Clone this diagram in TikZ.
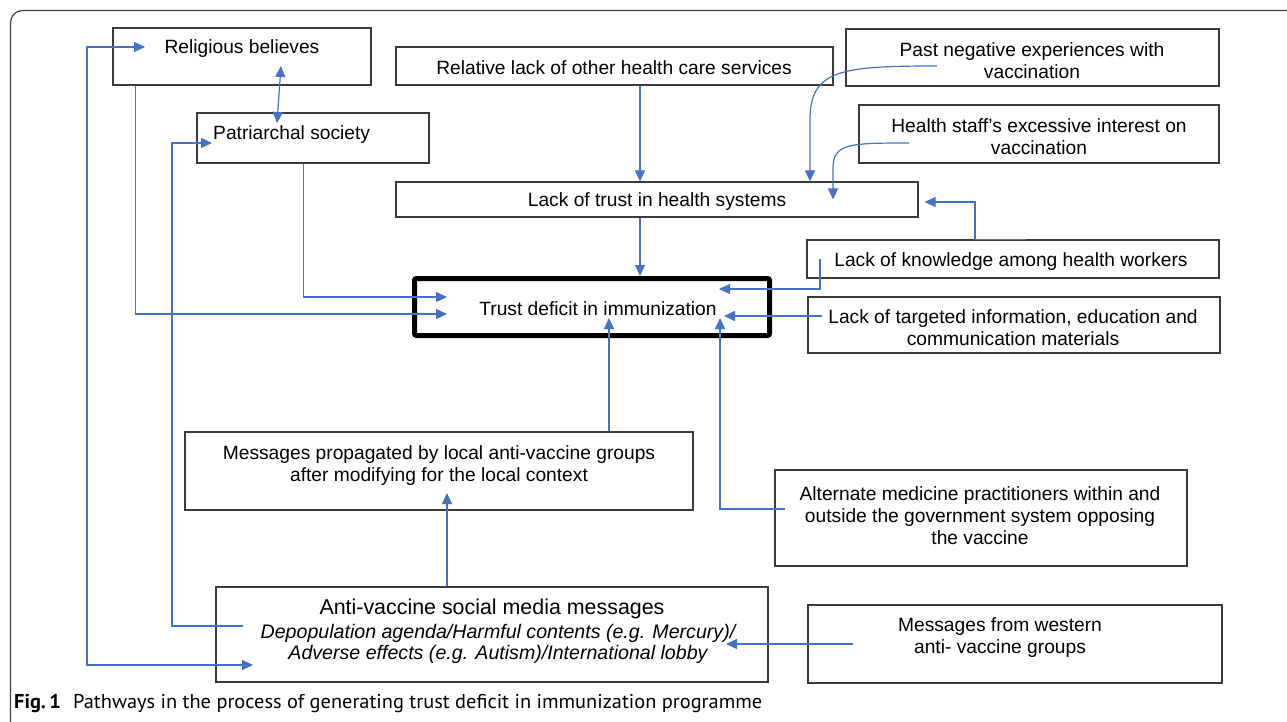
\documentclass[tikz,border=0pt]{standalone}
\usepackage{fontspec}
\setmainfont{Liberation Sans}
\newfontfamily\capfont{PT Sans}
\usetikzlibrary{arrows.meta,calc}
\definecolor{linkblue}{HTML}{4472C4}
\definecolor{boxgray}{HTML}{3A3A3A}
\begin{document}
\begin{tikzpicture}[x=1pt,y=-1pt,
  box/.style={draw=boxgray,line width=1.2pt,inner sep=0pt,minimum width=#1},
  txt/.style={inner sep=0pt,align=center,yshift=-1.5pt,font=\fontsize{19.2}{22}\selectfont},
  conn/.style={draw=linkblue,line width=1.2pt},
  arr/.style={conn,-{Triangle[length=11pt,width=10pt]}},
  darr/.style={conn,{Triangle[length=11pt,width=10pt]}-{Triangle[length=11pt,width=10pt]}}]
\clip (0,0) rectangle (1287,722);
\useasboundingbox (0,0) rectangle (1287,722);
\fill[white] (0,0) rectangle (1287,722);
\draw[line width=1.2pt,rounded corners=12pt,color=black!75] (10.5,10.5) rectangle (1330,760);

% boxes
\node[box=258pt,minimum height=57pt] (b-rb) at (242,56.5) {};
\node[box=232pt,minimum height=50pt] (b-ps) at (313,138) {};
\node[box=437pt,minimum height=38pt] (b-rl) at (614.5,66) {};
\node[box=373pt,minimum height=57pt] (b-pn) at (1032.5,57.5) {};
\node[box=360pt,minimum height=58pt] (b-hs) at (1039,134) {};
\node[box=522pt,minimum height=35pt] (b-lt) at (657,199.5) {};
\node[box=412pt,minimum height=38pt] (b-lk) at (1013,259) {};
\node[box=412pt,minimum height=56pt] (b-li) at (1014,325) {};
\node[draw=black,line width=5pt,rounded corners=2pt,inner sep=0pt,minimum width=355pt,minimum height=57pt] (b-td) at (592,307) {};
\node[box=508pt,minimum height=78pt] (b-mp) at (439,471) {};
\node[box=412pt,minimum height=96pt] (b-am) at (981,518) {};
\node[box=552pt,minimum height=95pt] (b-av) at (492,634.5) {};
\node[box=414pt,minimum height=78pt] (b-mw) at (1015,644) {};

% texts
\node[txt] (t-rb) at (242,47) {Religious believes};
\node[txt,anchor=west] (t-ps) at (213,133) {Patriarchal society};
\node[txt] (t-rl) at (614,66) {Relative lack of other health care services};
\node[txt] (t-pn) at (1032,59) {Past negative experiences with\\vaccination};
\node[txt] (t-hs) at (1039,135) {Health staff's excessive interest on\\vaccination};
\node[txt] (t-lt) at (657,200) {Lack of trust in health systems};
\node[txt] (t-lk) at (1011,260) {Lack of knowledge among health workers};
\node[txt] (t-li) at (1013,326) {Lack of targeted information, education and\\communication materials};
\node[txt] (t-td) at (598,307) {Trust deficit in immunization};
\node[txt] (t-mp) at (439,464) {Messages propagated by local anti-vaccine groups\\after modifying for the local context};
\node[txt] (t-am) at (980,514) {Alternate medicine practitioners within and\\outside the government system opposing\\the vaccine};
\node[txt,font=\fontsize{21.4}{22}\selectfont] (t-av1) at (492,607) {Anti-vaccine social media messages};
\node[txt,font=\fontsize{19.6}{21}\selectfont\itshape] (t-av2) at (498,642.5) {Depopulation agenda/Harmful contents (e.g. Mercury)/\\Adverse effects (e.g. Autism)/International lobby};
\node[txt] (t-mw) at (1000,636) {Messages from western\\anti- vaccine groups};

% caption
\node[anchor=west,inner sep=0pt] (cap) at (14,703) {\resizebox{748pt}{\height}{\capfont\fontsize{20}{22}\selectfont\textbf{Fig.\,1}\hspace{0.6em}Pathways in the process of generating trust deficit in immunization programme}};

% connectors
\draw[arr] ([xshift=23pt]b-rb.south west) |- ([xshift=35pt,yshift=-7pt]b-td.west);
\draw[arr] ([xshift=107pt]b-ps.south west) |- ([xshift=35pt,yshift=10pt]b-td.west);
\draw[darr] ([xshift=39pt,yshift=-9.5pt]b-rb.center) -- ([xshift=-36pt,yshift=15pt]b-ps.center);
\draw[darr] ([xshift=-239pt,yshift=-30.5pt]b-av.center) -- ++(-166,0) |- ([xshift=-97pt,yshift=9.5pt]b-rb.center);
\draw[arr] ([xshift=-249pt,yshift=8.5pt]b-av.center) -- ++(-71,0) |- ([xshift=-101pt,yshift=-5pt]b-ps.center);
\draw[arr] ([xshift=25.5pt]b-rl.south) -- ([xshift=-17pt]b-lt.north);
\draw[arr] ([xshift=-95.5pt,yshift=-8.5pt]b-pn.center) .. controls +(-95,0) and +(0,-50) .. ([xshift=153pt,yshift=62pt]b-lt.north) -- ([xshift=153pt]b-lt.north);
\draw[arr] ([xshift=-130pt,yshift=-9pt]b-hs.center) .. controls +(-60,0) and +(0,-25) .. ([xshift=176pt,yshift=31pt]b-lt.center) -- ([xshift=176pt]b-lt.center);
\draw[arr] ([xshift=13pt]b-lk.north) -- ++(-51,0) |- ([xshift=6pt,yshift=-2.5pt]b-lt.east);
\draw[arr] ([xshift=-17pt]b-lt.south) -- ([xshift=48pt]b-td.north);
\draw[arr] ([xshift=-193pt]b-lk.center) |- ([xshift=127pt,yshift=18pt]b-td.center);
\draw[arr] ([xshift=-192pt,yshift=9pt]b-li.center) -- ([xshift=132pt,yshift=-9pt]b-td.center);
\draw[arr] ([xshift=170pt]b-mp.north) -- ([xshift=17pt,yshift=-11pt]b-td.center);
\draw[arr] ([xshift=-196pt,yshift=9pt]b-am.center) -| ([xshift=128pt,yshift=-11pt]b-td.center);
\draw[arr] ([xshift=-45pt]b-av.north) -- ([xshift=8pt,yshift=-22pt]b-mp.center);
\draw[arr] ([xshift=-162pt]b-mw.center) -- ([xshift=234pt,yshift=-9.5pt]b-av.center);
\end{tikzpicture}
\end{document}
